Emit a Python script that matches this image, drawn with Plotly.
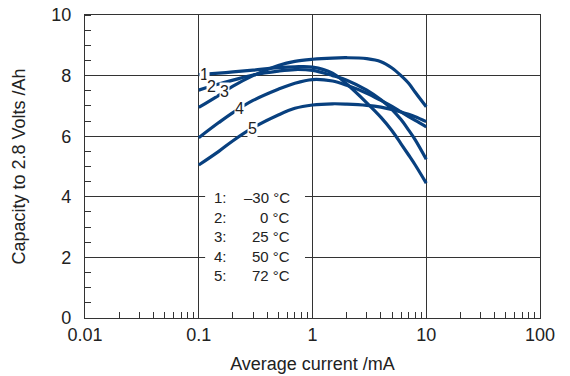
import numpy as np
import plotly.graph_objects as go

# ---- data ----
current_mA = [0.1, 0.15, 0.2, 0.3, 0.5, 0.7, 1, 1.5, 2, 3, 4, 5, 6, 7, 8, 10]
cap_m30 = [8.03, 8.08, 8.12, 8.18, 8.26, 8.29, 8.28, 8.08, 7.72, 7.10, 6.62, 6.18, 5.75, 5.38, 5.05, 4.45]
cap_0 = [7.52, 7.72, 7.85, 8.02, 8.15, 8.20, 8.17, 8.00, 7.85, 7.52, 7.20, 6.88, 6.55, 6.20, 5.88, 5.24]
cap_25 = [6.95, 7.35, 7.65, 8.00, 8.33, 8.47, 8.54, 8.58, 8.59, 8.56, 8.46, 8.25, 8.00, 7.75, 7.45, 6.97]
cap_50 = [5.95, 6.45, 6.78, 7.18, 7.55, 7.75, 7.87, 7.82, 7.68, 7.42, 7.18, 6.98, 6.80, 6.65, 6.52, 6.31]
cap_72 = [5.05, 5.50, 5.85, 6.28, 6.70, 6.92, 7.03, 7.07, 7.06, 7.02, 6.96, 6.88, 6.80, 6.72, 6.64, 6.48]

curve_ids = ["1", "2", "3", "4", "5"]
temps = ["\u201330 \u00b0C", "0 \u00b0C", "25 \u00b0C", "50 \u00b0C", "72 \u00b0C"]
label_x = [0.112, 0.130, 0.168, 0.226, 0.296]

x_ticks = [0.01, 0.1, 1, 10, 100]
x_ticktext = ["0.01", "0.1", "1", "10", "100"]
y_ticks = [0, 2, 4, 6, 8, 10]

series = [cap_m30, cap_0, cap_25, cap_50, cap_72]

LINE = "#08407f"
TXT = "#222222"
FRAME = "#333333"
FONT = "Liberation Sans, Arial, Helvetica, sans-serif"

fig = go.Figure()
for cid, vals in zip(curve_ids, series):
    fig.add_trace(go.Scatter(x=current_mA, y=vals, mode="lines",
                             line=dict(color=LINE, width=3.2, shape="spline", smoothing=1.0),
                             showlegend=False, hoverinfo="skip", name=cid))

# curve number labels placed on curves
annotations = []
lx_log = np.log10(current_mA)
for cid, vals, lx in zip(curve_ids, series, label_x):
    ly = float(np.interp(np.log10(lx), lx_log, vals))
    annotations.append(dict(x=np.log10(lx), y=ly, xref="x", yref="y", text=cid,
                            showarrow=False, bgcolor="white", borderpad=0,
                            font=dict(size=16, color=TXT, family=FONT)))

# legend text block
row_top = 3.97
row_step = 0.645
for i, (cid, t) in enumerate(zip(curve_ids, temps)):
    yy = row_top - i * row_step
    annotations.append(dict(x=np.log10(0.132), y=yy, xref="x", yref="y", text=cid + ":",
                            xanchor="left", showarrow=False,
                            font=dict(size=15, color=TXT, family=FONT)))
    annotations.append(dict(x=np.log10(0.665), y=yy, xref="x", yref="y", text=t,
                            xanchor="right", showarrow=False,
                            font=dict(size=15, color=TXT, family=FONT)))

minor_x = [m * 10.0 ** d for d in range(-2, 2) for m in range(2, 10)]

fig.update_layout(
    width=570, height=376,
    margin=dict(l=85, r=30, t=15, b=58, autoexpand=False),
    paper_bgcolor="white", plot_bgcolor="white",
    font=dict(family=FONT, color=TXT, size=18),
    annotations=annotations,
    shapes=[dict(type="rect", xref="paper", yref="paper", x0=0.264, x1=0.4835,
                 y0=0.1023, y1=0.4356, fillcolor="white", line=dict(width=0), layer="above")],
    xaxis=dict(type="log", range=[-2, 2], tickvals=x_ticks, ticktext=x_ticktext,
               ticks="", showgrid=True, gridcolor=FRAME, gridwidth=1, automargin=False,
               showline=True, mirror=True, linecolor=FRAME, linewidth=1.3,
               zeroline=False, tickfont=dict(size=18, color=TXT), ticklabeloverflow="allow",
               minor=dict(ticks="inside", ticklen=6, tickwidth=1, tickcolor=FRAME,
                          tickvals=minor_x, showgrid=False),
               title=dict(text="Average current /mA", font=dict(size=18, color=TXT), standoff=13)),
    yaxis=dict(range=[0, 10], tickvals=y_ticks, ticks="", showgrid=True, gridcolor=FRAME,
               gridwidth=1, automargin=False, showline=True, mirror=True, linecolor=FRAME,
               linewidth=1.3, zeroline=False, tickfont=dict(size=18, color=TXT),
               ticklabelstandoff=9, ticklabeloverflow="allow",
               minor=dict(ticks="inside", ticklen=6, tickwidth=1, tickcolor=FRAME,
                          dtick=0.5, tick0=0, showgrid=False),
               title=dict(text="Capacity to 2.8 Volts /Ah", font=dict(size=18, color=TXT), standoff=20)),
)

fig.write_html("out.html", config={"displayModeBar": False},
               post_script="document.body.style.margin='0';document.body.style.overflow='hidden';")
